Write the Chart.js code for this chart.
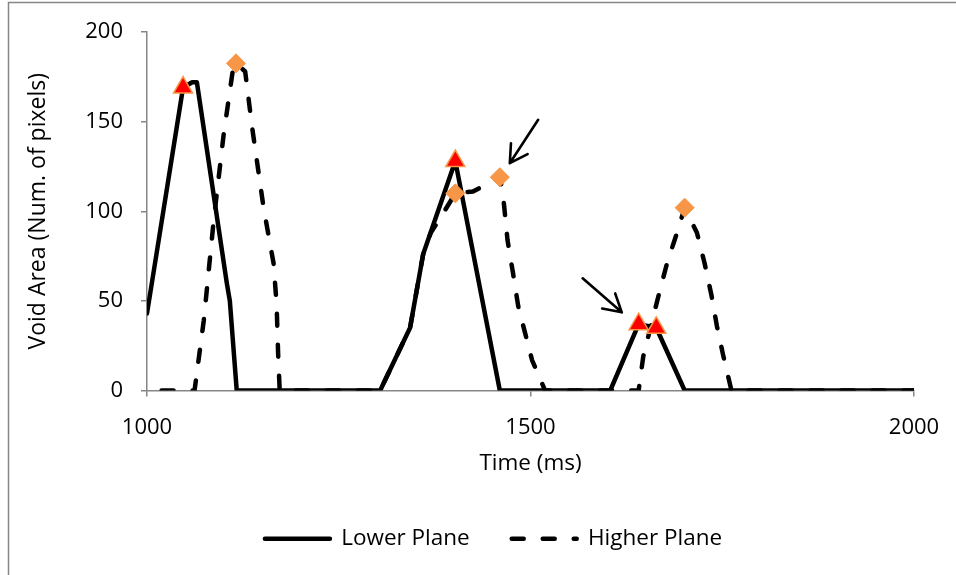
<!DOCTYPE html>
<html>
<head>
<meta charset="utf-8">
<script src="https://cdn.jsdelivr.net/npm/chart.js@4/dist/chart.umd.min.js"></script>
<style>
  html, body { margin: 0; padding: 0; background: #fff; }
  #wrap { width: 956px; height: 575px; position: relative; }
</style>
</head>
<body>
<div id="wrap"><canvas id="c" width="956" height="575"></canvas></div>
<script>
// Lower plane void area over time
const lowerTime = [1000, 1047, 1059, 1065, 1104, 1108, 1117, 1304, 1343, 1360, 1402, 1460, 1604, 1641, 1664, 1701, 2000];
const lowerArea = [43, 169, 172, 172, 60, 50, 0, 0, 35, 76, 128, 0, 0, 37, 35, 0, 0];

// Higher plane void area over time
const higherTime = [1019, 1062, 1074, 1087, 1100, 1112, 1116, 1128, 1137, 1152, 1165, 1169, 1171, 1173,
                    1304, 1343, 1360, 1370, 1382, 1402, 1425, 1460, 1464, 1470, 1477, 1484, 1493, 1502, 1512, 1519,
                    1641, 1647, 1667, 1678, 1691, 1701, 1717, 1727, 1736, 1743, 1751, 1762, 2000];
const higherArea = [0, 0, 39, 95, 143, 179, 182.5, 178, 147, 102, 71, 48, 20, 0,
                    0, 35, 76, 88, 96, 110, 111, 119, 110, 84, 66, 47, 32, 17, 7, 0,
                    0, 19, 53, 71, 88, 102, 88, 71, 53, 36, 20, 0, 0];

// Highlighted peaks
const lowerPeakTime = [1047, 1402, 1641, 1664];
const lowerPeakArea = [169, 128, 37, 35];
const higherPeakTime = [1116, 1402, 1460, 1701];
const higherPeakArea = [182.5, 110, 119, 102];

// Annotation arrows (tail -> tip), in data units
const arrowTailTime = [1510, 1568];
const arrowTailArea = [151, 62.6];
const arrowTipTime = [1473, 1619];
const arrowTipArea = [126.8, 43.6];

// Axis ticks
const xTicks = [1000, 1500, 2000];
const yTicks = [0, 50, 100, 150, 200];

const toXY = (xs, ys) => xs.map((v, i) => ({ x: v, y: ys[i] }));

const seriesNames = ['Lower Plane', 'Higher Plane'];
const seriesDash = [[], [12, 19]];

const AXIS_GREY = '#868686';
Chart.defaults.font.family = "'Open Sans', sans-serif";
Chart.defaults.color = '#000';

const frame = {
  id: 'frame',
  beforeDraw(chart) {
    const ctx = chart.ctx;
    ctx.save();
    ctx.fillStyle = '#fff';
    ctx.fillRect(0, 0, chart.width, chart.height);
    ctx.strokeStyle = AXIS_GREY;
    ctx.lineWidth = 1.5;
    ctx.beginPath();
    ctx.moveTo(8.5, chart.height);
    ctx.lineTo(8.5, 2.5);
    ctx.lineTo(chart.width, 2.5);
    ctx.stroke();
    ctx.restore();
  }
};

const arrows = {
  id: 'arrows',
  afterDatasetsDraw(chart) {
    const { ctx, scales: { x, y } } = chart;
    ctx.save();
    ctx.strokeStyle = '#000';
    ctx.lineWidth = 2.6;
    ctx.lineCap = 'round';
    ctx.setLineDash([]);
    for (let i = 0; i < arrowTipTime.length; i++) {
      const tx = x.getPixelForValue(arrowTipTime[i]);
      const ty = y.getPixelForValue(arrowTipArea[i]);
      const sx = x.getPixelForValue(arrowTailTime[i]);
      const sy = y.getPixelForValue(arrowTailArea[i]);
      const ang = Math.atan2(sy - ty, sx - tx);
      ctx.beginPath();
      ctx.moveTo(sx, sy);
      ctx.lineTo(tx, ty);
      for (const d of [-0.52, 0.52]) {
        ctx.moveTo(tx, ty);
        ctx.lineTo(tx + 20 * Math.cos(ang + d), ty + 20 * Math.sin(ang + d));
      }
      ctx.stroke();
    }
    ctx.restore();
  }
};

const legendShift = {
  id: 'legendShift',
  afterLayout(chart) {
    const lg = chart.legend;
    if (lg) { lg.left += 29.5; lg.right += 29.5; }
  }
};

new Chart(document.getElementById('c'), {
  type: 'scatter',
  data: {
    datasets: [
      {
        label: seriesNames[0],
        data: toXY(lowerTime, lowerArea),
        showLine: true,
        borderColor: '#000',
        borderWidth: 4.5,
        borderDash: seriesDash[0],
        borderJoinStyle: 'round',
        borderCapStyle: 'round',
        pointRadius: 0,
        pointHoverRadius: 0,
        tension: 0,
        order: 3
      },
      {
        label: seriesNames[1],
        data: toXY(higherTime, higherArea),
        showLine: true,
        borderColor: '#000',
        borderWidth: 4.5,
        borderDash: seriesDash[1],
        borderJoinStyle: 'round',
        borderCapStyle: 'round',
        pointRadius: 0,
        pointHoverRadius: 0,
        tension: 0,
        order: 2
      },
      {
        label: 'Lower Plane peaks',
        data: toXY(lowerPeakTime, lowerPeakArea),
        showLine: false,
        pointStyle: 'triangle',
        pointRadius: 11,
        pointHoverRadius: 11,
        pointBackgroundColor: '#FF0000',
        pointBorderColor: '#F79646',
        pointBorderWidth: 1.5,
        order: 1
      },
      {
        label: 'Higher Plane peaks',
        data: toXY(higherPeakTime, higherPeakArea),
        showLine: false,
        pointStyle: 'rectRot',
        pointRadius: 9.5,
        pointHoverRadius: 9.5,
        pointBackgroundColor: '#F79646',
        pointBorderColor: '#F79646',
        pointBorderWidth: 1,
        order: 0
      }
    ]
  },
  options: {
    responsive: false,
    animation: false,
    devicePixelRatio: 1,
    events: [],
    layout: { padding: { left: 14, right: 42, top: 32, bottom: 15 } },
    scales: {
      x: {
        type: 'linear',
        min: 1000,
        max: 2000,
        afterBuildTicks: s => { s.ticks = xTicks.map(v => ({ value: v })); },
        afterFit: s => { s.height = 95; s.paddingLeft = 0; s.paddingRight = 0; },
        border: { display: true, color: AXIS_GREY, width: 1.5 },
        grid: { drawOnChartArea: false, drawTicks: true, tickLength: 6, color: AXIS_GREY, lineWidth: 1.5 },
        ticks: { font: { size: 22 }, padding: 18, color: '#000', maxRotation: 0, callback: v => String(v) },
        title: { display: true, text: 'Time (ms)', font: { size: 22.5 }, color: '#000', padding: { top: 0, bottom: 8 } }
      },
      y: {
        type: 'linear',
        min: 0,
        max: 200,
        afterBuildTicks: s => { s.ticks = yTicks.map(v => ({ value: v })); },
        afterFit: s => { s.width = 133; },
        border: { display: true, color: AXIS_GREY, width: 1.5 },
        grid: { drawOnChartArea: false, drawTicks: true, tickLength: 6, color: AXIS_GREY, lineWidth: 1.5 },
        ticks: { font: { size: 22 }, padding: 18, color: '#000', callback: v => String(v) },
        title: { display: true, text: 'Void Area (Num. of pixels)', font: { size: 23 }, color: '#000', padding: { top: 11, bottom: 0 } }
      }
    },
    plugins: {
      tooltip: { enabled: false },
      legend: {
        position: 'bottom',
        labels: {
          usePointStyle: true,
          pointStyleWidth: 65,
          boxHeight: 22,
          padding: 42,
          font: { size: 22.5 },
          color: '#000',
          generateLabels: () => seriesNames.map((name, i) => ({
            text: name,
            datasetIndex: i,
            pointStyle: 'line',
            fillStyle: '#000',
            strokeStyle: '#000',
            lineWidth: 4.5,
            lineDash: seriesDash[i],
            lineCap: 'round',
            hidden: false
          }))
        }
      }
    }
  },
  plugins: [frame, arrows, legendShift]
});
</script>
</body>
</html>
